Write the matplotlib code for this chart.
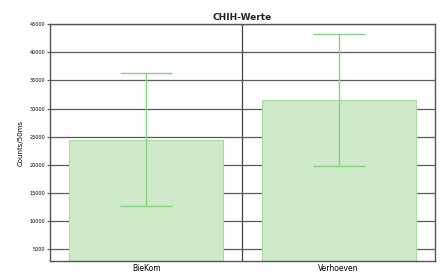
import numpy as np
import matplotlib.pyplot as plt

# data
categories = ["BieKom", "Verhoeven"]
means = [24500, 31500]
errors = [11800, 11700]
yticks = [5000, 10000, 15000, 20000, 25000, 30000, 35000, 40000, 45000]

fig = plt.figure(figsize=(4.41, 2.74), dpi=100)
ax = fig.add_axes([0.113, 0.047, 0.873, 0.865])

x = np.arange(len(categories))
ax.bar(x, means, width=0.8, color="#cfeac9", edgecolor="#a8dca0",
       linewidth=0.8, zorder=2)
ax.errorbar(x, means, yerr=errors, fmt="none", ecolor="#86d086",
            elinewidth=1.0, capsize=19, capthick=1.0, zorder=3)

ax.set_xlim(-0.5, 1.5)
ax.set_ylim(2900, 45000)
ax.set_yticks(yticks)
ax.set_yticklabels([str(t) for t in yticks], fontsize=3.5)
ax.set_xticks(x)
ax.set_xticklabels(categories, fontsize=5.5)
ax.set_xticks([0.5], minor=True)
ax.tick_params(axis="x", which="both", length=0, pad=2)
ax.tick_params(axis="y", length=2, width=0.8, color="#555555", pad=1.5)

ax.grid(True, axis="y", color="#5a5a5a", linewidth=0.9, zorder=1)
ax.grid(True, axis="x", which="minor", color="#444444", linewidth=0.9, zorder=1)
ax.grid(False, axis="x", which="major")
ax.set_axisbelow(True)

for s in ax.spines.values():
    s.set_color("#555555")
    s.set_linewidth(1.0)

ax.set_title("CHIH-Werte", fontsize=6.5, fontweight="bold", color="#222222", pad=3)
ax.set_ylabel("Counts/50ms", fontsize=5, labelpad=4)

fig.savefig("out.png", dpi=100)
